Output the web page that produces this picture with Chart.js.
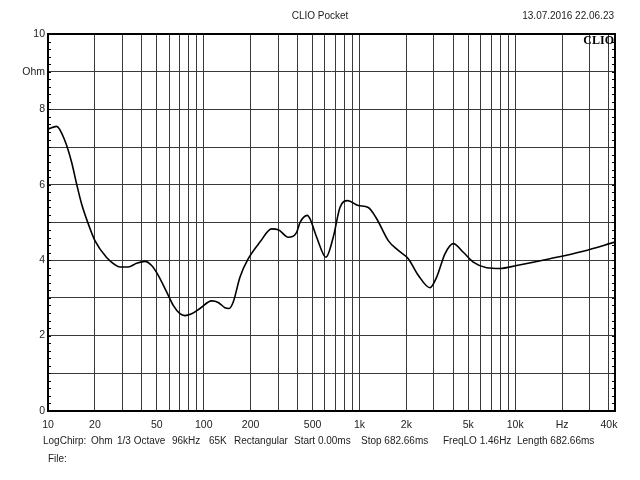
<!DOCTYPE html>
<html>
<head>
<meta charset="utf-8">
<script src="https://cdn.jsdelivr.net/npm/chart.js@4/dist/chart.umd.min.js"></script>
<style>
  html, body { margin: 0; padding: 0; background: #fff; }
  #wrap { width: 640px; height: 480px; }
</style>
</head>
<body>
<div id="wrap"><canvas id="impChart" width="640" height="480"></canvas></div>
<script>
// impedance curve (Hz, Ohm)
const freqs = [10, 11.35, 12.84, 14.18, 15.27, 16.44, 18.12, 20.01, 23.79, 26.9, 28.96, 32.74, 37.07,
  41.93, 46.29, 51.04, 57.77, 63.72, 70.34, 75.74, 83.62, 94.54, 112.4, 123.9, 136.8, 145.8, 154.7,
  170.8, 193.2, 229.6, 273, 301, 348.9, 395.1, 415.2, 462.2, 481, 531.1, 609.3, 678.7, 749.6, 840.2,
  982.4, 1139, 1290, 1531, 1775, 2058, 2386, 2837, 3132, 3541, 4003, 4642, 5382, 6561, 7988, 10222,
  16730, 27370, 43750];
const ohms = [7.48, 7.55, 7.17, 6.60, 6.02, 5.49, 4.97, 4.52, 4.07, 3.88, 3.82, 3.82, 3.92, 3.97, 3.86, 3.60,
  3.16, 2.80, 2.58, 2.53, 2.58, 2.72, 2.92, 2.88, 2.74, 2.72, 2.89, 3.55, 4.04, 4.48, 4.83, 4.81, 4.61,
  4.74, 5.00, 5.19, 5.10, 4.61, 4.08, 4.61, 5.40, 5.58, 5.45, 5.40, 5.10, 4.52, 4.26, 4.04, 3.60, 3.27,
  3.55, 4.17, 4.44, 4.21, 3.95, 3.80, 3.78, 3.86, 4.04, 4.24, 4.48];

// axis ticks
const xMin = 10;
const xMax = 43750;
const xGrid = [10, 20, 30, 40, 50, 60, 70, 80, 90, 100, 200, 300, 400, 500, 600, 700, 800, 900,
  1000, 2000, 3000, 4000, 5000, 6000, 7000, 8000, 9000, 10000, 20000, 30000, 40000];
const xLabelVals = [10, 20, 50, 100, 200, 500, 1000, 2000, 5000, 10000, 20000, 40000];
const xLabelText = ['10', '20', '50', '100', '200', '500', '1k', '2k', '5k', '10k', 'Hz', '40k'];
const yLabelVals = [0, 2, 4, 6, 8, 9, 10];
const yLabelText = ['0', '2', '4', '6', '8', 'Ohm', '10'];

const titleText = 'CLIO Pocket';
const dateText = '13.07.2016 22.06.23';
const footerParts = ['LogChirp:', 'Ohm', '1/3 Octave', '96kHz', '65K', 'Rectangular',
  'Start 0.00ms', 'Stop 682.66ms', 'FreqLO 1.46Hz', 'Length 682.66ms'];
const footerX = [43, 91, 117, 172, 209, 234, 294, 361, 443, 517];

const FONT = '"Liberation Sans", Arial, sans-serif';

// frame, minor ticks and the CLIO header/footer text
const clioDecor = {
    id: 'clioDecor',
    afterDraw(chart) {
        const ctx = chart.ctx;
        const a = chart.chartArea;
        const y = chart.scales.y;
        ctx.save();
        ctx.strokeStyle = '#000';
        ctx.lineWidth = 1;
        for (let v = 0; v <= 10.001; v += 0.2) {
            const py = Math.round(y.getPixelForValue(v)) + 0.5;
            ctx.beginPath();
            ctx.moveTo(a.left, py); ctx.lineTo(a.left + 3, py);
            ctx.moveTo(a.right, py); ctx.lineTo(a.right - 3, py);
            ctx.stroke();
        }
        ctx.lineWidth = 2;
        ctx.strokeRect(a.left, a.top, a.right - a.left, a.bottom - a.top);

        ctx.fillStyle = '#000';
        ctx.font = 'bold 12px "Liberation Serif", "DejaVu Serif", serif';
        ctx.textAlign = 'right';
        ctx.textBaseline = 'top';
        ctx.fillText('CLIO', a.right - 1, a.top + 1);

        ctx.fillStyle = '#222';
        ctx.font = '10px ' + FONT;
        ctx.textBaseline = 'middle';
        ctx.textAlign = 'center';
        ctx.fillText(titleText, 320, 16);
        ctx.textAlign = 'right';
        ctx.fillText(dateText, 614, 16);
        ctx.textAlign = 'left';
        footerParts.forEach((t, i) => ctx.fillText(t, footerX[i], 441));
        ctx.fillText('File:', 48, 459);
        ctx.restore();
    }
};

function initializeImpedanceChart() {
    const ctx = document.getElementById('impChart').getContext('2d');
    new Chart(ctx, {
        type: 'line',
        data: {
            datasets: [{
                label: 'Impedance',
                data: freqs.map((f, i) => ({ x: f, y: ohms[i] })),
                borderColor: '#000',
                borderWidth: 1.6,
                pointRadius: 0,
                fill: false,
                cubicInterpolationMode: 'monotone'
            }]
        },
        options: {
            responsive: false,
            animation: false,
            layout: { padding: { left: 0, top: 34, right: 25, bottom: 0 } },
            plugins: {
                legend: { display: false },
                tooltip: { enabled: false }
            },
            scales: {
                x: {
                    type: 'logarithmic',
                    min: xMin,
                    max: xMax,
                    afterBuildTicks: (scale) => {
                        scale.ticks = xGrid.map(v => ({ value: v }));
                    },
                    afterFit: (scale) => { scale.height = 69; },
                    grid: { color: '#3a3a3a', lineWidth: 1, drawTicks: false },
                    border: { display: false },
                    ticks: {
                        autoSkip: false,
                        maxRotation: 0,
                        padding: 8,
                        color: '#222',
                        font: { family: FONT, size: 10.5 },
                        callback: (v) => {
                            const i = xLabelVals.indexOf(v);
                            return i >= 0 ? xLabelText[i] : '';
                        }
                    }
                },
                y: {
                    type: 'linear',
                    min: 0,
                    max: 10,
                    afterFit: (scale) => { scale.width = 48; },
                    grid: { color: '#3a3a3a', lineWidth: 1, drawTicks: false },
                    border: { display: false },
                    ticks: {
                        stepSize: 1,
                        padding: 3,
                        color: '#222',
                        font: { family: FONT, size: 10.5 },
                        callback: (v) => {
                            const i = yLabelVals.indexOf(v);
                            return i >= 0 ? yLabelText[i] : '';
                        }
                    }
                }
            }
        },
        plugins: [clioDecor]
    });
}

document.addEventListener('DOMContentLoaded', initializeImpedanceChart);
</script>
</body>
</html>
